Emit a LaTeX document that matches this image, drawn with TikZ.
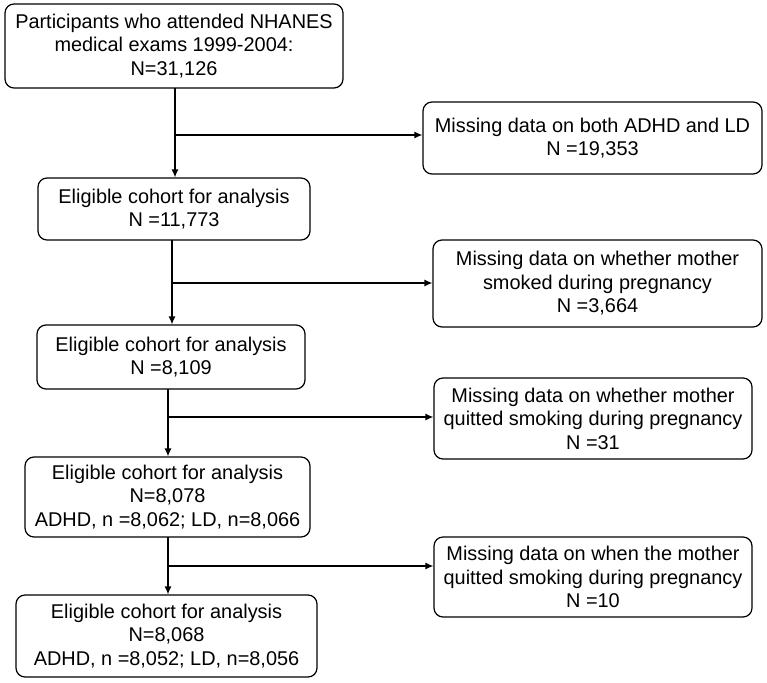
\documentclass[tikz,border=0pt]{standalone}
\usepackage{fontspec}
\setmainfont{Liberation Sans}
\usetikzlibrary{arrows.meta}
\begin{document}
\begin{tikzpicture}[x=1pt,y=-1pt,
  box/.style={draw, line width=1.2pt, rounded corners=9pt, align=center, inner sep=0pt,
    font=\fontsize{19.9}{23.5}\selectfont, anchor=center},
  arr/.style={line width=1.2pt, -{Latex[length=8pt,width=7pt]}}]
\useasboundingbox (0,0) rectangle (767,682);
\node[box, minimum width=338pt, minimum height=84pt] (A) at (174,46)
  {Participants who attended NHANES\\medical exams 1999-2004:\\N=31,126};
\node[box, minimum width=339pt, minimum height=72pt] (B) at (592.5,138)
  {Missing data on both ADHD and LD\\N =19,353};
\node[box, minimum width=272pt, minimum height=62pt] (C) at (174,209)
  {Eligible cohort for analysis\\N =11,773};
\node[box, minimum width=329pt, minimum height=87pt] (D) at (597.5,283.5)
  {Missing data on whether mother\\smoked during pregnancy\\N =3,664};
\node[box, minimum width=268pt, minimum height=64pt] (E) at (171,357)
  {Eligible cohort for analysis\\N =8,109};
\node[box, minimum width=318pt, minimum height=81pt] (F) at (593,418.5)
  {Missing data on whether mother\\quitted smoking during pregnancy\\N =31};
\node[box, minimum width=285pt, minimum height=80pt] (G) at (167.5,497)
  {Eligible cohort for analysis\\N=8,078\\ADHD, n =8,062; LD, n=8,066};
\node[box, minimum width=318pt, minimum height=80pt] (H) at (593,577)
  {Missing data on when the mother\\quitted smoking during pregnancy\\N =10};
\node[box, minimum width=301pt, minimum height=82pt] (I) at (166.5,636)
  {Eligible cohort for analysis\\N=8,068\\ADHD, n =8,052; LD, n=8,056};
% main flow
\coordinate (a1) at (175,88);
\coordinate (b1) at (175,135);
\draw[arr] (a1) -- (a1 |- C.north);
\draw[arr] (b1) -- (b1 -| B.west);
\coordinate (c1) at (172,240);
\coordinate (d1) at (172,283);
\draw[arr] (c1) -- (c1 |- E.north);
\draw[arr] (d1) -- (d1 -| D.west);
\coordinate (e1) at (168,389);
\coordinate (f1) at (168,417);
\draw[arr] (e1) -- (e1 |- G.north);
\draw[arr] (f1) -- (f1 -| F.west);
\coordinate (g1) at (168,537);
\coordinate (h1) at (168,566);
\draw[arr] (g1) -- (g1 |- I.north);
\draw[arr] (h1) -- (h1 -| H.west);
\end{tikzpicture}
\end{document}
